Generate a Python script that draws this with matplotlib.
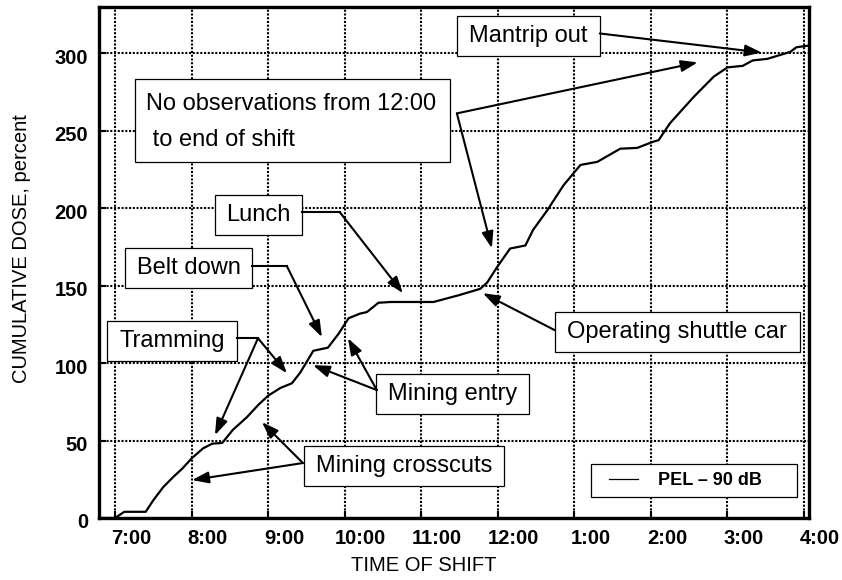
import matplotlib
matplotlib.use('Agg')
import matplotlib.pyplot as plt
import matplotlib.patches as patches
import matplotlib.transforms as mtransforms
from matplotlib.legend_handler import HandlerLine2D

plt.rcParams['font.family'] = ['Liberation Sans', 'DejaVu Sans']

# dose curve (time in hours of the day, 13 = 1:00 pm)
shift_time = [6.79, 7.0, 7.12, 7.4, 7.5, 7.63, 7.76, 7.88, 8.0, 8.15, 8.27, 8.4,
              8.54, 8.72, 8.87, 9.0, 9.16, 9.31, 9.42, 9.59, 9.78, 9.92, 10.05,
              10.2, 10.29, 10.44, 10.6, 11.16, 11.5, 11.77, 11.86, 11.99, 12.16,
              12.36, 12.46, 12.65, 12.86, 13.08, 13.3, 13.6, 13.82, 14.03, 14.1,
              14.25, 14.56, 14.82, 15.0, 15.2, 15.33, 15.52, 15.82, 15.9, 16.05]
cum_dose = [0, 0, 4, 4, 11.5, 20, 26.5, 32, 38.5, 45, 48, 48.5,
            57, 65, 73, 79, 84, 87, 94, 108, 110, 119, 129,
            132, 133, 139, 139.5, 139.5, 144, 148, 152, 162, 174,
            176, 186, 199, 215, 228, 230, 238.5, 239, 243, 244,
            255, 272, 285, 291, 292, 295.5, 296.5, 301, 304, 305]

hour_ticks = [7, 8, 9, 10, 11, 12, 13, 14, 15, 16]
hour_labels = ['7:00', '8:00', '9:00', '10:00', '11:00', '12:00',
               '1:00', '2:00', '3:00', '4:00']
dose_ticks = [0, 50, 100, 150, 200, 250, 300]

# callouts: text, box (x0, x1, y0, y1), text anchor, connector, arrows (start, tip)
callouts = [
    dict(text='Mantrip out', box=(11.465, 13.332, 298.1, 323.9), at=(12.398, 311.0),
         arrows=[((13.332, 312.9), (15.447, 300.6))]),
    dict(text='No observations from 12:00\n to end of shift',
         box=(7.261, 11.373, 229.7, 283.2), at=(7.405, 255.8), ha='left',
         arrows=[((11.465, 261.3), (14.611, 294.2)), ((11.465, 261.3), (11.922, 174.2))]),
    dict(text='Lunch', box=(8.305, 9.441, 182.6, 208.4), at=(8.873, 195.5),
         link=((9.441, 9.937), (197.4, 197.4)),
         arrows=[((9.937, 197.4), (10.760, 145.2))]),
    dict(text='Belt down', box=(7.131, 8.789, 148.4, 174.2), at=(7.960, 161.3),
         link=((8.789, 9.245), (162.6, 162.6)),
         arrows=[((9.245, 162.6), (9.702, 116.8))]),
    dict(text='Tramming', box=(6.896, 8.593, 101.3, 127.1), at=(7.744, 114.2),
         link=((8.593, 8.867), (116.1, 116.1)),
         arrows=[((8.867, 116.1), (8.305, 53.5)), ((8.867, 116.1), (9.245, 93.5))]),
    dict(text='Mining entry', box=(10.407, 12.405, 67.1, 92.9), at=(11.406, 80.0),
         arrows=[((10.420, 82.6), (9.585, 98.7)), ((10.420, 82.6), (10.042, 116.1))]),
    dict(text='Mining crosscuts', box=(9.467, 12.078, 20.6, 46.5), at=(10.773, 33.5),
         arrows=[((9.454, 35.5), (8.005, 24.5)), ((9.454, 35.5), (8.919, 61.9))]),
    dict(text='Operating shuttle car', box=(12.744, 15.943, 107.1, 132.9), at=(14.343, 120.0),
         arrows=[((12.744, 121.3), (11.804, 145.2))]),
]

fig = plt.figure(figsize=(8.42, 5.80), dpi=100)
ax = fig.add_axes([99 / 842, 62 / 580, 710 / 842, 511 / 580])

line, = ax.plot(shift_time, cum_dose, color='black', lw=1.6, label='PEL \u2013 90 dB', zorder=3)

ax.set_xlim(6.79, 16.065)
ax.set_ylim(0, 330)
ax.set_xticks(hour_ticks)
ax.set_xticklabels(hour_labels)
ax.set_yticks(dose_ticks)
ax.grid(True, color='black', lw=1.5, linestyle=(0, (1, 0.8)))
ax.set_axisbelow(True)

for sp in ax.spines.values():
    sp.set_linewidth(2.4)
ax.tick_params(direction='in', length=5, width=1.5, labelsize=14.5, pad=8)
for lab in ax.get_xticklabels() + ax.get_yticklabels():
    lab.set_fontweight('bold')
# x labels sit a bit to the right of their grid lines
shift = mtransforms.ScaledTranslation(0.16, 0, fig.dpi_scale_trans)
for lab in ax.get_xticklabels():
    lab.set_transform(lab.get_transform() + shift)
yshift = mtransforms.ScaledTranslation(0, -0.03, fig.dpi_scale_trans)
for lab in ax.get_yticklabels():
    lab.set_transform(lab.get_transform() + yshift)

ax.set_xlabel('TIME OF SHIFT', fontsize=14.5)
ax.set_ylabel('CUMULATIVE DOSE, percent', fontsize=14.5)
ax.xaxis.set_label_coords(0.458, -0.075)
ax.yaxis.set_label_coords(-0.096, 0.528)

arrow_style = '-|>,head_length=1.0,head_width=0.35'
for c in callouts:
    x0, x1, y0, y1 = c['box']
    ax.add_patch(patches.Rectangle((x0, y0), x1 - x0, y1 - y0, facecolor='white',
                                   edgecolor='black', lw=0.9, zorder=4))
    ha = c.get('ha', 'center')
    ax.text(c['at'][0], c['at'][1], c['text'], ha=ha, va='center', fontsize=17,
            linespacing=1.8, zorder=5)
    if 'link' in c:
        ax.plot(c['link'][0], c['link'][1], color='black', lw=1.5, zorder=4)
    for start, tip in c['arrows']:
        ax.annotate('', xy=tip, xytext=start,
                    arrowprops=dict(arrowstyle=arrow_style, color='black', lw=1.5,
                                    shrinkA=0, shrinkB=0, mutation_scale=10),
                    zorder=4)

leg = ax.legend(loc='lower left', bbox_to_anchor=(0.693, 0.041, 0.29, 0.0665),
                mode='expand', borderaxespad=0, fancybox=False, framealpha=1,
                edgecolor='black', borderpad=0.45, handlelength=2.15,
                handletextpad=1.1, prop={'weight': 'bold', 'size': 13},
                handler_map={line: HandlerLine2D(xpad=0.55)})
leg.get_frame().set_linewidth(0.9)
leg.get_lines()[0].set_linewidth(0.9)
leg.set_zorder(6)

fig.savefig('out.png', dpi=100)
